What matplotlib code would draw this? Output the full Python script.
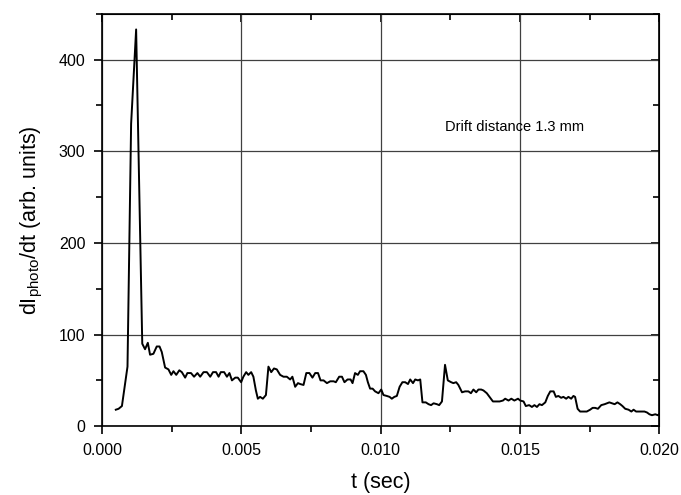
import numpy as np
import matplotlib
matplotlib.use("Agg")
import matplotlib.pyplot as plt
from matplotlib.ticker import MultipleLocator

plt.rcParams['font.family'] = ['Liberation Sans', 'DejaVu Sans']
plt.rcParams['mathtext.fontset'] = 'custom'
plt.rcParams['mathtext.rm'] = 'Liberation Sans'
plt.rcParams['mathtext.it'] = 'Liberation Sans:italic'

# time axis in milliseconds
t_ms = [0.49, 0.59, 0.71, 0.91, 1.04, 1.22, 1.44, 1.54, 1.64, 1.72,
        1.84, 1.96, 2.06, 2.14, 2.26, 2.38, 2.48, 2.56, 2.66, 2.77,
        2.86, 2.98, 3.06, 3.19, 3.30, 3.42, 3.52, 3.64, 3.76, 3.88,
        3.98, 4.09, 4.18, 4.26, 4.38, 4.48, 4.57, 4.66, 4.78, 4.87,
        4.99, 5.07, 5.17, 5.25, 5.35, 5.43, 5.52, 5.59, 5.67, 5.77,
        5.88, 5.97, 6.07, 6.17, 6.27, 6.39, 6.51, 6.63, 6.75, 6.83,
        6.93, 7.03, 7.11, 7.23, 7.33, 7.44, 7.55, 7.65, 7.75, 7.84,
        7.95, 8.07, 8.19, 8.31, 8.39, 8.51, 8.61, 8.70, 8.81, 8.92,
        8.99, 9.08, 9.18, 9.26, 9.38, 9.47, 9.54, 9.62, 9.71, 9.80,
        9.92, 10.02, 10.10, 10.22, 10.32, 10.40, 10.49, 10.58, 10.68, 10.78,
        10.88, 10.98, 11.06, 11.16, 11.24, 11.34, 11.42, 11.50, 11.62, 11.72,
        11.81, 11.90, 12.02, 12.10, 12.20, 12.31, 12.41, 12.53, 12.61, 12.71,
        12.79, 12.92, 13.03, 13.15, 13.24, 13.33, 13.43, 13.51, 13.61, 13.69,
        13.81, 13.91, 14.03, 14.15, 14.27, 14.39, 14.47, 14.59, 14.69, 14.80,
        14.93, 15.01, 15.13, 15.21, 15.33, 15.43, 15.52, 15.61, 15.70, 15.79,
        15.91, 16.00, 16.09, 16.21, 16.29, 16.38, 16.48, 16.56, 16.66, 16.74,
        16.84, 16.92, 16.98, 17.07, 17.16, 17.28, 17.40, 17.52, 17.61, 17.70,
        17.80, 17.92, 18.04, 18.12, 18.21, 18.30, 18.40, 18.50, 18.60, 18.68,
        18.78, 18.90, 19.00, 19.08, 19.17, 19.26, 19.35, 19.47, 19.56, 19.65,
        19.74, 19.86, 19.95, 20.04]

signal = [18, 19, 22, 65, 330, 433, 90, 84, 91, 78,
          79, 87, 87, 81, 64, 62, 56, 60, 56, 61,
          59, 53, 58, 58, 54, 58, 54, 59, 59, 54,
          59, 59, 54, 59, 59, 54, 58, 50, 53, 53,
          48, 54, 59, 56, 59, 54, 39, 30, 32, 30,
          34, 65, 59, 63, 62, 56, 54, 54, 51, 54,
          43, 47, 46, 45, 58, 58, 53, 58, 58, 50,
          50, 47, 49, 49, 48, 54, 54, 48, 51, 51,
          47, 58, 56, 60, 60, 56, 48, 41, 41, 38,
          36, 40, 34, 33, 32, 30, 32, 33, 43, 48,
          48, 46, 51, 47, 51, 50, 51, 26, 26, 24,
          23, 25, 24, 23, 27, 67, 50, 48, 47, 48,
          45, 37, 38, 38, 36, 40, 37, 40, 40, 39,
          36, 32, 27, 27, 27, 28, 30, 28, 30, 28,
          30, 28, 27, 22, 23, 21, 23, 21, 24, 23,
          26, 33, 38, 38, 32, 33, 31, 32, 30, 32,
          30, 33, 32, 19, 16, 16, 16, 18, 20, 20,
          19, 23, 24, 25, 26, 25, 24, 26, 24, 22,
          19, 18, 16, 18, 16, 16, 16, 16, 15, 13,
          12, 13, 12, 14]

x_ticks = [0.000, 0.005, 0.010, 0.015, 0.020]
x_ticklabels = ['0.000', '0.005', '0.010', '0.015', '0.020']
y_ticks = [0, 100, 200, 300, 400]

t = np.array(t_ms) * 1e-3

fig = plt.figure(figsize=(6.81, 4.95), dpi=100)
ax = fig.add_axes([0.150, 0.139, 0.818, 0.833])

ax.plot(t, signal, color='black', lw=1.4, clip_on=True)

ax.set_xlim(0, 0.020)
ax.set_ylim(0, 450)
ax.set_xticks(x_ticks)
ax.set_xticklabels(x_ticklabels)
ax.set_yticks(y_ticks)
ax.xaxis.set_minor_locator(MultipleLocator(0.0025))
ax.yaxis.set_minor_locator(MultipleLocator(50))

ax.grid(True, which='major', color='0.25', lw=0.9)
ax.set_axisbelow(True)

ax.tick_params(which='both', direction='out', labelsize=11.5, width=1.2,
               color='black', pad=6)
ax.tick_params(which='major', length=6)
ax.tick_params(which='minor', length=4)
for side in ax.spines.values():
    side.set_linewidth(1.2)

# inward ticks on top/right
axt = ax.secondary_xaxis('top')
axt.set_xticks(x_ticks)
axt.xaxis.set_minor_locator(MultipleLocator(0.0025))
axt.tick_params(which='both', direction='in', labeltop=False, width=1.2)
axt.tick_params(which='major', length=6)
axt.tick_params(which='minor', length=4)
axt.set_xticklabels([])
axr = ax.secondary_yaxis('right')
axr.set_yticks(y_ticks)
axr.yaxis.set_minor_locator(MultipleLocator(50))
axr.tick_params(which='both', direction='in', width=1.2)
axr.tick_params(which='major', length=6)
axr.tick_params(which='minor', length=4)
axr.set_yticklabels([])

ax.set_xlabel('t (sec)', fontsize=15.5, labelpad=10)
ax.set_ylabel(r'dI$_{\mathrm{photo}}$/dt (arb. units)', fontsize=15.5, labelpad=10)

ax.text(0.01230, 327, 'Drift distance 1.3 mm', fontsize=10.5, va='center', ha='left')

fig.savefig('out.png', dpi=100)
